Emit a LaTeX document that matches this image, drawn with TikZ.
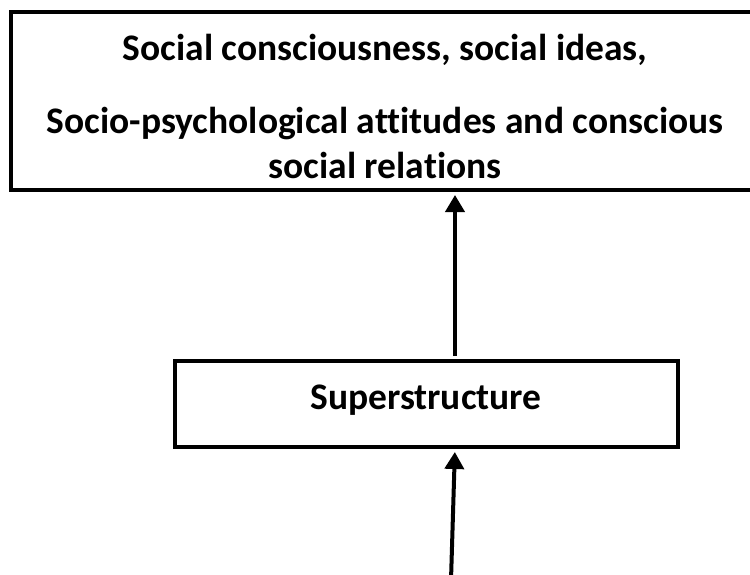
\documentclass[tikz,border=0pt]{standalone}
\usepackage{fontspec}
\setmainfont{Carlito}[Ligatures=NoCommon]
\usetikzlibrary{arrows.meta}
\usetikzlibrary{positioning}
\usetikzlibrary{calc}
\newcommand\myline[3]{%
  \node[textnode] (#1) at (#2) {#3};
}

\begin{document}
\begin{tikzpicture}[
x=1pt, y=-1pt,
>={Triangle[length=17pt,width=19pt]},
boxnode/.style={
  rectangle,
  draw,
  line width=3.5pt,
  outer sep=0pt},
textnode/.style={
  anchor=base,
  inner sep=0pt,
  font=\fontsize{37.5}{45}\selectfont\bfseries}
]
\useasboundingbox (0,0) rectangle (750,574);
\node[boxnode, minimum width=742pt, minimum height=178pt] (ideas) at (382,101) {};
\node[boxnode, minimum width=503pt, minimum height=86pt] (super) at (426.5,404) {};
\myline{ideas1}{385,60}{Social consciousness, social ideas,}
\myline{ideas2}{385,133}{Socio-psychological attitudes and conscious}
\myline{ideas3}{385,178}{social relations}
\myline{superlabel}{426,409}{Superstructure}
\coordinate (mid) at (455,0);
\coordinate (tail) at (451,580);
\draw [->, line width=4pt, shorten >=5pt] (tail) -- (mid |- super.south);
\draw [->, line width=4pt, shorten <=5pt, shorten >=5pt] (mid |- super.north) -- (mid |- ideas.south);
\end{tikzpicture}
\end{document}
